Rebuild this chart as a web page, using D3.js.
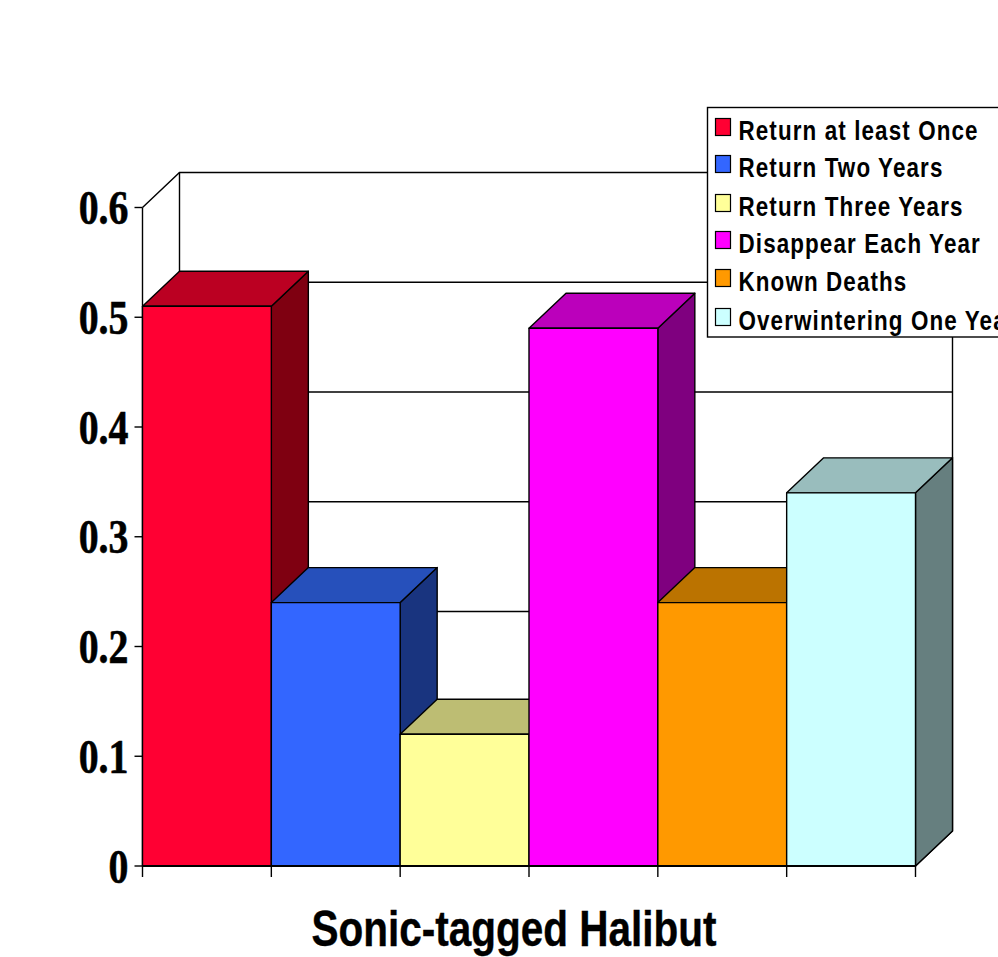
<!DOCTYPE html>
<html>
<head>
<meta charset="utf-8">
<style>
html,body{margin:0;padding:0;background:#fff;overflow:hidden}
svg{display:block}
</style>
<script src="https://cdn.jsdelivr.net/npm/d3@7"></script>
</head>
<body>
<svg id="chart" width="998" height="957"></svg>
<script>
const categories = ["Return at least Once","Return Two Years","Return Three Years","Disappear Each Year","Known Deaths","Overwintering One Year"];
const values = [0.51,0.24,0.12,0.49,0.24,0.34];
const fronts = ["#ff0033","#3366ff","#ffff99","#ff00ff","#ff9900","#ccffff"];
const tops = ["#bb0022","#2650bb","#bdbd73","#bb00bb","#bb7300","#99bdbd"];
const sides = ["#7f0011","#19347f","#7f7f4c","#7f007f","#7f4c00","#667f7f"];
const yTicks = [0,0.1,0.2,0.3,0.4,0.5,0.6];
const tickLabels = ["0","0.1","0.2","0.3","0.4","0.5","0.6"];
const xTitle = "Sonic-tagged Halibut";

const svg = d3.select("#chart");
const x = d3.scaleBand().domain(categories).range([142.5,915.5]).padding(0);
const y = d3.scaleLinear().domain([0,0.6]).range([866,207.5]);
const dx = 37, dy = -35;
const ink = "#000";
const lineWidth = 1.4;

// Back wall, side wall and floor of the 3D box
const wall = svg.append("g").attr("fill","none").attr("stroke",ink).attr("stroke-width",lineWidth);
wall.append("path").attr("d",d3.line()([[x.range()[0],y(0.6)],[x.range()[0]+dx,y(0.6)+dy],[x.range()[1]+dx,y(0.6)+dy],[x.range()[1]+dx,y(0)+dy],[x.range()[1],y(0)]]));
wall.append("line").attr("x1",x.range()[0]+dx).attr("x2",x.range()[0]+dx).attr("y1",y(0.6)+dy).attr("y2",y(0)+dy);

// Gridlines on the back wall
wall.selectAll("line.grid").data(yTicks.slice(1,-1)).join("line").attr("class","grid")
  .attr("x1",x.range()[0]+dx).attr("x2",x.range()[1]+dx)
  .attr("y1",d=>y(d)+dy).attr("y2",d=>y(d)+dy);

// Left wall edge, drawn with the axis
wall.append("line").attr("x1",x.range()[0]).attr("x2",x.range()[0]).attr("y1",y(0.6)).attr("y2",y(0));

// Bars: right side first, then top, then front, so neighbours overlap properly
const bars = svg.append("g").attr("stroke",ink).attr("stroke-width",lineWidth).attr("stroke-linejoin","round");
categories.forEach((c,i)=>{
  const g = bars.append("g");
  const l = x(c), r = l + x.bandwidth(), t = y(values[i]), b = y(0);
  g.append("path").attr("fill",sides[i])
    .attr("d",d3.line()([[r,t],[r+dx,t+dy],[r+dx,b+dy],[r,b]])+"Z");
  g.append("path").attr("fill",tops[i])
    .attr("d",d3.line()([[l,t],[l+dx,t+dy],[r+dx,t+dy],[r,t]])+"Z");
  g.append("rect").attr("fill",fronts[i])
    .attr("x",l).attr("y",t).attr("width",x.bandwidth()).attr("height",b-t);
});

// Value axis
const yAxis = svg.append("g").attr("stroke",ink);
yAxis.selectAll("line").data(yTicks).join("line")
  .attr("x1",x.range()[0]-8).attr("x2",x.range()[0])
  .attr("y1",d=>y(d)).attr("y2",d=>y(d)).attr("stroke-width",lineWidth);
svg.append("g").selectAll("text").data(yTicks).join("text")
  .attr("transform",d=>`translate(128.5,${y(d)+16.5}) scale(0.83,1)`)
  .attr("text-anchor","end")
  .attr("font-family","'Liberation Serif'").attr("font-weight","bold").attr("font-size",48)
  .attr("fill",ink).attr("stroke",ink).attr("stroke-width",0.6)
  .text((d,i)=>tickLabels[i]);

// Category axis baseline and ticks
const xEdges = categories.map(c=>x(c)).concat([x.range()[1]]);
const xAxis = svg.append("g").attr("stroke",ink);
xAxis.append("line").attr("x1",x.range()[0]).attr("x2",x.range()[1]).attr("y1",y(0)).attr("y2",y(0)).attr("stroke-width",1.8);
xAxis.selectAll("line.t").data(xEdges).join("line").attr("class","t")
  .attr("x1",d=>d).attr("x2",d=>d).attr("y1",y(0)).attr("y2",y(0)+11).attr("stroke-width",lineWidth);

// Axis title
svg.append("text")
  .attr("transform","translate(514,946) scale(0.81,1)")
  .attr("text-anchor","middle")
  .attr("font-family","'Liberation Sans'").attr("font-weight","bold").attr("font-size",50)
  .attr("fill",ink).attr("stroke",ink).attr("stroke-width",0.4).text(xTitle);

// Legend, running off the right edge of the page
const legend = svg.append("g");
legend.append("rect").attr("x",707.5).attr("y",107.5).attr("width",320).attr("height",229.5)
  .attr("fill","#fff").attr("stroke",ink).attr("stroke-width",lineWidth);
const legendRows = [130,167,206,243,281,320];
categories.forEach((c,i)=>{
  legend.append("rect").attr("x",715.5).attr("y",legendRows[i]-11.5).attr("width",15).attr("height",17)
    .attr("fill",fronts[i]).attr("stroke",ink).attr("stroke-width",1.2);
  legend.append("text")
    .attr("transform",`translate(738.5,${legendRows[i]+9.5}) scale(0.8,1)`)
    .attr("letter-spacing",1.4)
    .attr("font-family","'Liberation Sans'").attr("font-weight","bold").attr("font-size",28)
    .attr("fill",ink).text(c);
});
</script>
</body>
</html>
